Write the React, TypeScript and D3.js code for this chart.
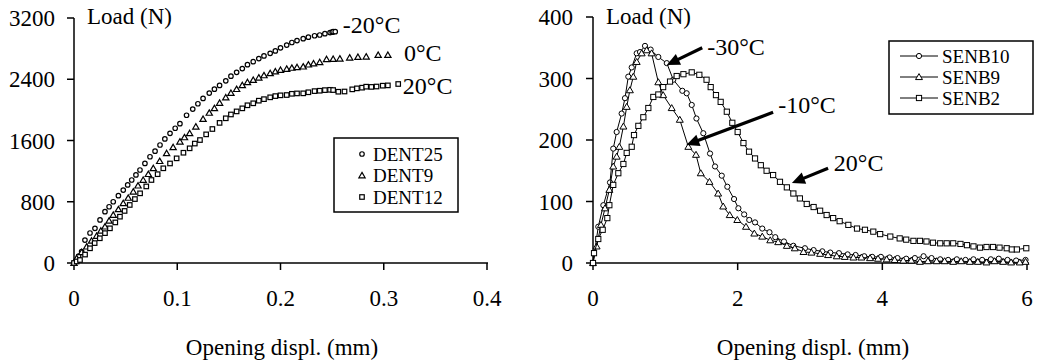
import React from "react";
import * as d3 from "d3";

type P = [number, number];

// ---------- Left panel (DENT) ----------
const leftSeriesNames = ["DENT25", "DENT9", "DENT12"];
const leftXTicks = [0, 0.1, 0.2, 0.3, 0.4];
const leftYTicks = [0, 800, 1600, 2400, 3200];

const dent25: P[] = [
  [0, 0], [0.0045, 90], [0.0074, 150], [0.0106, 300], [0.0155, 392], [0.0203, 453], [0.0252, 562],
  [0.03, 670], [0.034, 735], [0.038, 800], [0.043, 880], [0.0477, 953], [0.052, 1020], [0.0559, 1084],
  [0.06, 1150], [0.0639, 1215], [0.0687, 1300], [0.0736, 1388], [0.0785, 1460], [0.0833, 1541],
  [0.088, 1620], [0.093, 1694], [0.098, 1760], [0.1026, 1820], [0.109, 1930], [0.115, 2010],
  [0.12, 2080], [0.125, 2150], [0.131, 2220], [0.136, 2270], [0.141, 2320], [0.147, 2380],
  [0.152, 2440], [0.1575, 2490], [0.163, 2540], [0.168, 2590], [0.1736, 2629], [0.179, 2670],
  [0.184, 2705], [0.19, 2739], [0.195, 2770], [0.2, 2810], [0.206, 2847], [0.211, 2880],
  [0.216, 2905], [0.222, 2930], [0.227, 2950], [0.233, 2968], [0.238, 2978], [0.243, 2995],
  [0.248, 3010], [0.25, 3015], [0.251, 3021], [0.253, 3021],
];
const dent9: P[] = [
  [0, 0], [0.0026, 61], [0.0074, 140], [0.0123, 213], [0.017, 290], [0.0219, 353], [0.026, 420],
  [0.03, 474], [0.034, 550], [0.038, 627], [0.043, 700], [0.0477, 780], [0.0525, 850], [0.0574, 931],
  [0.062, 1010], [0.067, 1084], [0.072, 1160], [0.0768, 1237], [0.083, 1330], [0.0897, 1433],
  [0.096, 1510], [0.1026, 1584], [0.107, 1640], [0.112, 1694], [0.118, 1780], [0.125, 1880],
  [0.131, 1960], [0.136, 2020], [0.141, 2090], [0.147, 2160], [0.152, 2220], [0.1575, 2270],
  [0.163, 2320], [0.168, 2360], [0.1736, 2390], [0.179, 2420], [0.184, 2450], [0.19, 2477],
  [0.195, 2500], [0.2, 2520], [0.206, 2534], [0.211, 2548], [0.216, 2556], [0.222, 2564],
  [0.227, 2590], [0.232, 2605], [0.238, 2621], [0.2446, 2660], [0.251, 2664], [0.2575, 2668],
  [0.267, 2681], [0.275, 2690], [0.283, 2694], [0.2946, 2716], [0.304, 2716],
];
const dent12: P[] = [
  [0, 0], [0.0026, 20], [0.0058, 39], [0.0107, 110], [0.0155, 192], [0.02, 260], [0.025, 323],
  [0.03, 390], [0.0348, 453], [0.04, 530], [0.0445, 605], [0.049, 680], [0.054, 758], [0.059, 835],
  [0.064, 910], [0.07, 1000], [0.075, 1084], [0.081, 1160], [0.0865, 1237], [0.093, 1300],
  [0.0994, 1367], [0.106, 1440], [0.112, 1498], [0.117, 1560], [0.122, 1606], [0.128, 1680],
  [0.134, 1750], [0.141, 1830], [0.147, 1890], [0.152, 1940], [0.1575, 1980], [0.163, 2020],
  [0.168, 2060], [0.1736, 2086], [0.179, 2120], [0.184, 2140], [0.19, 2164], [0.195, 2180],
  [0.2, 2190], [0.206, 2194], [0.211, 2210], [0.216, 2215], [0.222, 2216], [0.227, 2230],
  [0.233, 2245], [0.238, 2250], [0.243, 2258], [0.248, 2262], [0.251, 2259], [0.256, 2237],
  [0.262, 2240], [0.2695, 2268], [0.274, 2281], [0.279, 2290], [0.283, 2303], [0.288, 2300],
  [0.293, 2305], [0.299, 2316], [0.304, 2320], [0.314, 2338],
];
const leftLabels = [
  { text: "-20°C", x: 0.2604, y: 3108 },
  { text: "0°C", x: 0.3195, y: 2743 },
  { text: "20°C", x: 0.3185, y: 2312 },
];

// ---------- Right panel (SENB) ----------
const rightSeriesNames = ["SENB10", "SENB9", "SENB2"];
const rightXTicks = [0, 2, 4, 6];
const rightYTicks = [0, 100, 200, 300, 400];

const senb10: P[] = [
  [0, 0], [0.073, 59], [0.143, 94], [0.235, 131], [0.28, 186], [0.327, 213], [0.396, 243],
  [0.442, 268], [0.488, 303], [0.535, 318], [0.604, 341], [0.65, 343], [0.719, 353], [0.797, 347],
  [0.903, 335], [1.02, 325], [1.11, 298], [1.235, 280], [1.295, 276], [1.365, 257], [1.43, 235],
  [1.525, 211], [1.618, 178], [1.687, 157], [1.78, 142], [1.857, 124], [1.95, 104], [2.01, 89],
  [2.09, 79], [2.16, 70], [2.24, 66], [2.34, 56], [2.44, 50], [2.52, 42], [2.64, 35], [2.77, 28],
  [2.93, 24], [3.05, 21], [3.17, 19], [3.28, 17], [3.4, 16], [3.52, 14], [3.63, 13], [3.75, 11],
  [3.86, 10], [3.98, 10], [4.1, 9], [4.21, 8], [4.33, 7], [4.45, 8], [4.57, 11], [4.68, 8],
  [4.8, 6], [4.91, 5], [5.03, 6], [5.15, 5], [5.26, 6], [5.38, 5], [5.5, 6], [5.61, 7],
  [5.73, 5], [5.85, 4], [5.98, 5],
];
const senb9: P[] = [
  [0, 0], [0.05, 27], [0.11, 62], [0.166, 89], [0.226, 119], [0.28, 157], [0.327, 173],
  [0.364, 189], [0.42, 222], [0.466, 254], [0.51, 281], [0.557, 303], [0.604, 327], [0.673, 341],
  [0.742, 346], [0.81, 341], [0.903, 294], [0.97, 273], [1.088, 252], [1.2, 233], [1.318, 189],
  [1.424, 176], [1.49, 146], [1.61, 132], [1.73, 113], [1.8, 92], [1.89, 78], [1.995, 70],
  [2.115, 59], [2.23, 48], [2.34, 43], [2.45, 37], [2.56, 34], [2.68, 28], [2.79, 24], [2.91, 18],
  [3.02, 17], [3.14, 15], [3.25, 13], [3.37, 11], [3.48, 10], [3.6, 9], [3.71, 9], [3.83, 8],
  [3.94, 7], [4.06, 6], [4.17, 5], [4.29, 4], [4.4, 4], [4.52, 2], [4.63, 3], [4.75, 3],
  [4.86, 3], [4.98, 2], [5.09, 3], [5.21, 2], [5.32, 2], [5.44, 1], [5.55, 3], [5.67, 2],
  [5.78, 1], [5.9, 1], [5.98, 2],
];
const senb2: P[] = [
  [0, 0], [0.014, 16], [0.073, 39], [0.134, 54], [0.198, 73], [0.226, 94], [0.28, 127],
  [0.35, 146], [0.42, 161], [0.466, 179], [0.535, 189], [0.567, 208], [0.627, 223], [0.696, 237],
  [0.765, 252], [0.834, 270], [0.903, 274], [0.97, 286], [1.065, 295], [1.157, 304], [1.25, 307],
  [1.365, 310], [1.47, 306], [1.57, 298], [1.627, 286], [1.7, 273], [1.765, 262], [1.85, 246],
  [1.926, 228], [2.0, 213], [2.08, 195], [2.157, 181], [2.24, 170], [2.32, 159], [2.4, 150],
  [2.49, 143], [2.585, 132], [2.68, 123], [2.77, 113], [2.86, 105], [2.955, 96], [3.05, 91],
  [3.14, 85], [3.23, 78], [3.32, 73], [3.41, 68], [3.53, 62], [3.65, 56], [3.76, 54],
  [3.875, 51], [3.97, 47], [4.11, 43], [4.24, 40], [4.33, 38], [4.43, 36], [4.52, 36],
  [4.61, 35], [4.7, 33], [4.8, 32], [4.89, 32], [4.98, 32], [5.08, 31], [5.17, 29], [5.26, 27],
  [5.35, 25], [5.44, 26], [5.53, 26], [5.62, 25], [5.72, 24], [5.79, 22], [5.86, 22], [5.99, 24],
];
const rightLabels = [
  { text: "-30°C", x: 1.58, y: 352, ax: 1.51, ay: 350, bx: 1.02, by: 322 },
  { text: "-10°C", x: 2.56, y: 257, ax: 2.49, ay: 245, bx: 1.29, by: 192 },
  { text: "20°C", x: 3.33, y: 163, ax: 3.25, ay: 154, bx: 2.75, by: 130 },
];

const FONT = "Liberation Serif, Times New Roman, Times, DejaVu Serif, serif";

type Shape = "circle" | "triangle" | "square";

function Marker({ shape, x, y, s, sw = 1 }: { shape: Shape; x: number; y: number; s: number; sw?: number }) {
  const common = { fill: "white", stroke: "black", strokeWidth: sw };
  if (shape === "circle") return <circle cx={x} cy={y} r={s * 0.5} {...common} />;
  if (shape === "square")
    return <rect x={x - s * 0.5} y={y - s * 0.5} width={s} height={s} {...common} />;
  const h = s * 0.95;
  return (
    <path
      d={`M${x},${y - h * 0.6}L${x + s * 0.58},${y + h * 0.45}L${x - s * 0.58},${y + h * 0.45}Z`}
      {...common}
    />
  );
}

function Arrow({ x1, y1, x2, y2 }: { x1: number; y1: number; x2: number; y2: number }) {
  const dx = x2 - x1, dy = y2 - y1;
  const len = Math.sqrt(dx * dx + dy * dy);
  const ux = dx / len, uy = dy / len;
  const hl = 13, hw = 6;
  const bx = x2 - ux * hl, by = y2 - uy * hl;
  const px = -uy, py = ux;
  return (
    <g>
      <line x1={x1} y1={y1} x2={bx + ux * 2} y2={by + uy * 2} stroke="black" strokeWidth={3.2} />
      <path
        d={`M${x2},${y2}L${bx + px * hw},${by + py * hw}L${bx - px * hw},${by - py * hw}Z`}
        fill="black"
      />
    </g>
  );
}

function T(props: any) {
  const { children, ...rest } = props;
  return (
    <text {...rest} style={{ fontFamily: FONT }}>
      {children}
    </text>
  );
}

export default function App() {
  const xL = d3.scaleLinear().domain([0, 0.4]).range([74, 487]);
  const yL = d3.scaleLinear().domain([0, 3200]).range([263, 18]);
  const xR = d3.scaleLinear().domain([0, 6]).range([593, 1027]);
  const yR = d3.scaleLinear().domain([0, 400]).range([263, 17]);

  const leftData: [P[], Shape][] = [[dent25, "circle"], [dent9, "triangle"], [dent12, "square"]];
  const rightData: [P[], Shape][] = [[senb10, "circle"], [senb9, "triangle"], [senb2, "square"]];

  const line = (xs: any, ys: any) =>
    d3.line<P>().x((d) => xs(d[0])).y((d) => ys(d[1]));

  const tickFont = 23;
  const axisStroke = 1.5;

  return (
    <svg
      width={1040}
      height={361}
      style={{ position: "fixed", left: 0, top: 0, background: "white", fontFamily: FONT }}
    >
      <rect x={0} y={0} width={1040} height={361} fill="white" />

      {/* ---------- LEFT ---------- */}
      <g>
        <line x1={xL(0)} y1={yL(0)} x2={xL(0.4) + 1} y2={yL(0)} stroke="black" strokeWidth={axisStroke} />
        <line x1={xL(0)} y1={yL(0)} x2={xL(0)} y2={yL(3200)} stroke="black" strokeWidth={axisStroke} />
        {leftYTicks.map((t) => (
          <g key={"ly" + t}>
            <line x1={xL(0) - 7} x2={xL(0)} y1={yL(t)} y2={yL(t)} stroke="black" strokeWidth={axisStroke} />
            <T x={55} y={yL(t)} dy="0.35em" textAnchor="end" fontSize={tickFont}>
              {t}
            </T>
          </g>
        ))}
        {leftXTicks.map((t) => (
          <g key={"lx" + t}>
            <line x1={xL(t)} x2={xL(t)} y1={yL(0)} y2={yL(0) + 7} stroke="black" strokeWidth={axisStroke} />
            <T x={xL(t)} y={306} textAnchor="middle" fontSize={tickFont}>
              {t}
            </T>
          </g>
        ))}
        <T x={87} y={24} fontSize={tickFont}>Load (N)</T>
        <T x={282} y={355} textAnchor="middle" fontSize={tickFont}>Opening displ. (mm)</T>

        {leftData.map(([data, shape], i) => (
          <g key={"ls" + i}>
            {data.map((d, j) => (
              <Marker key={j} shape={shape} x={xL(d[0])} y={yL(d[1])} s={shape === "triangle" ? 5.4 : 4.5} sw={1.2} />
            ))}
          </g>
        ))}

        {leftLabels.map((l) => (
          <T key={l.text} x={xL(l.x)} y={yL(l.y)} dy="0.35em" fontSize={24}>
            {l.text}
          </T>
        ))}

        {/* legend */}
        <rect x={334} y={138} width={124} height={74} fill="white" stroke="black" strokeWidth={1.5} />
        {leftSeriesNames.map((n, i) => (
          <g key={n}>
            <Marker shape={leftData[i][1]} x={362} y={154 + i * 21.5} s={i === 1 ? 5.4 : 4.5} sw={1.2} />
            <T x={373} y={154 + i * 21.5} dy="0.35em" fontSize={19}>
              {n}
            </T>
          </g>
        ))}
      </g>

      {/* ---------- RIGHT ---------- */}
      <g>
        <line x1={xR(0)} y1={yR(0)} x2={xR(6) + 2} y2={yR(0)} stroke="black" strokeWidth={axisStroke} />
        <line x1={xR(0)} y1={yR(0)} x2={xR(0)} y2={yR(400)} stroke="black" strokeWidth={axisStroke} />
        {rightYTicks.map((t) => (
          <g key={"ry" + t}>
            <line x1={xR(0) - 7} x2={xR(0)} y1={yR(t)} y2={yR(t)} stroke="black" strokeWidth={axisStroke} />
            <T x={573} y={yR(t)} dy="0.35em" textAnchor="end" fontSize={tickFont}>
              {t}
            </T>
          </g>
        ))}
        {rightXTicks.map((t) => (
          <g key={"rx" + t}>
            <line x1={xR(t)} x2={xR(t)} y1={yR(0)} y2={yR(0) + 7} stroke="black" strokeWidth={axisStroke} />
            <T x={xR(t)} y={306} textAnchor="middle" fontSize={tickFont}>
              {t}
            </T>
          </g>
        ))}
        <T x={606} y={24} fontSize={tickFont}>Load (N)</T>
        <T x={813} y={355} textAnchor="middle" fontSize={tickFont}>Opening displ. (mm)</T>

        {rightData.map(([data, shape], i) => (
          <g key={"rs" + i}>
            <path d={line(xR, yR)(data) || ""} fill="none" stroke="black" strokeWidth={1} />
            {data.map((d, j) => (
              <Marker key={j} shape={shape} x={xR(d[0])} y={yR(d[1])} s={shape === "triangle" ? 6 : 5.2} />
            ))}
          </g>
        ))}

        {rightLabels.map((l) => (
          <g key={l.text}>
            <Arrow x1={xR(l.ax)} y1={yR(l.ay)} x2={xR(l.bx)} y2={yR(l.by)} />
            <T x={xR(l.x)} y={yR(l.y)} dy="0.35em" fontSize={24}>
              {l.text}
            </T>
          </g>
        ))}

        {/* legend */}
        <rect x={889} y={41} width={144} height={73} fill="white" stroke="black" strokeWidth={1.5} />
        {rightSeriesNames.map((n, i) => (
          <g key={n}>
            <line x1={900} x2={938} y1={56 + i * 21} y2={56 + i * 21} stroke="black" strokeWidth={1} />
            <Marker shape={rightData[i][1]} x={919} y={56 + i * 21} s={i === 1 ? 6 : 5.2} />
            <T x={942} y={56 + i * 21} dy="0.35em" fontSize={19}>
              {n}
            </T>
          </g>
        ))}
      </g>
    </svg>
  );
}
